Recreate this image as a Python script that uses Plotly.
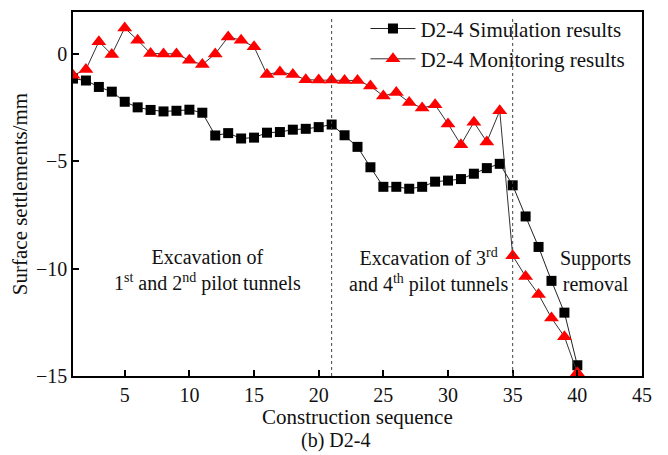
import plotly.graph_objects as go

# ---- data ----
sequence = list(range(1, 41))
sim_results = [-1.15, -1.24, -1.54, -1.76, -2.23, -2.49, -2.61, -2.68, -2.65, -2.60,
               -2.74, -3.80, -3.69, -3.94, -3.90, -3.67, -3.64, -3.53, -3.49, -3.41,
               -3.29, -3.79, -4.33, -5.28, -6.19, -6.19, -6.28, -6.19, -5.95, -5.90,
               -5.83, -5.58, -5.32, -5.12, -6.12, -7.57, -8.99, -10.57, -12.05, -14.50]
mon_results = [-1.00, -0.73, 0.57, -0.03, 1.21, 0.64, 0.02, 0.00, 0.00, -0.30,
               -0.50, 0.00, 0.79, 0.64, 0.33, -0.96, -0.84, -0.96, -1.20, -1.22,
               -1.22, -1.24, -1.24, -1.50, -1.96, -1.80, -2.26, -2.52, -2.37, -3.26,
               -4.23, -3.18, -4.10, -2.65, -9.40, -10.37, -11.20, -12.30, -13.17, -14.85]
series_names = ["D2-4 Simulation results", "D2-4 Monitoring results"]
stage_bounds = [21, 35]
stage_labels = ["Excavation of<br>1<sup>st</sup> and 2<sup>nd</sup> pilot tunnels",
                "Excavation of 3<sup>rd</sup><br>and 4<sup>th</sup> pilot tunnels",
                "Supports<br>removal"]
stage_label_x = [11.4, 28.5, 41.4]
x_ticks = [5, 10, 15, 20, 25, 30, 35, 40, 45]
y_ticks = [0, -5, -10, -15]
x_title = "Construction sequence"
y_title = "Surface settlements/mm"
caption = "(b) D2-4"

FONT = "Liberation Serif"
TXT = "#111111"

fig = go.Figure()
fig.add_trace(go.Scatter(
    x=sequence, y=sim_results, name=series_names[0], mode="lines+markers",
    line=dict(color="#222222", width=1),
    marker=dict(symbol="square", size=10, color="black"),
))
fig.add_trace(go.Scatter(
    x=sequence, y=mon_results, name=series_names[1], mode="lines+markers",
    line=dict(color="#333333", width=1),
    marker=dict(symbol="triangle-up", size=13, color="#ff0000"),
))

for xb in stage_bounds:
    fig.add_shape(type="line", xref="x", yref="y", x0=xb, x1=xb, y0=-15, y1=1.75,
                  line=dict(color="#444444", width=1, dash="dot"))

for txt, xl in zip(stage_labels, stage_label_x):
    fig.add_annotation(x=xl, y=-10.1, xref="x", yref="y", text=txt, showarrow=False,
                       font=dict(family=FONT, size=20, color=TXT),
                       align="center", xanchor="center", yanchor="middle")

fig.add_annotation(x=0.5, y=-0.112, xref="paper", yref="paper", text=x_title,
                   showarrow=False, font=dict(family=FONT, size=21, color=TXT),
                   xanchor="center", yanchor="middle")
fig.add_annotation(x=0.462, y=-0.178, xref="paper", yref="paper", text=caption,
                   showarrow=False, font=dict(family=FONT, size=20, color=TXT),
                   xanchor="center", yanchor="middle")

axis_common = dict(showline=True, linecolor="black", linewidth=1.5, mirror=True,
                   ticks="inside", ticklen=6, tickcolor="black", tickwidth=1.5,
                   showgrid=False, zeroline=False,
                   tickfont=dict(family=FONT, size=20, color=TXT))

fig.update_xaxes(range=[1, 45], tickvals=x_ticks, **axis_common)
fig.update_yaxes(range=[-15, 1.95], tickvals=y_ticks,
                 title=dict(text=y_title, standoff=6,
                            font=dict(family=FONT, size=21, color=TXT)),
                 **axis_common)

fig.update_layout(
    width=660, height=447,
    margin=dict(l=65, r=26, t=0, b=79),
    plot_bgcolor="white", paper_bgcolor="white",
    font=dict(family=FONT, size=20, color=TXT),
    legend=dict(x=0.514, y=1.01, xanchor="left", yanchor="top",
                bgcolor="rgba(0,0,0,0)", itemwidth=45,
                font=dict(family=FONT, size=21, color=TXT)),
)

fig.write_html("out.html")
